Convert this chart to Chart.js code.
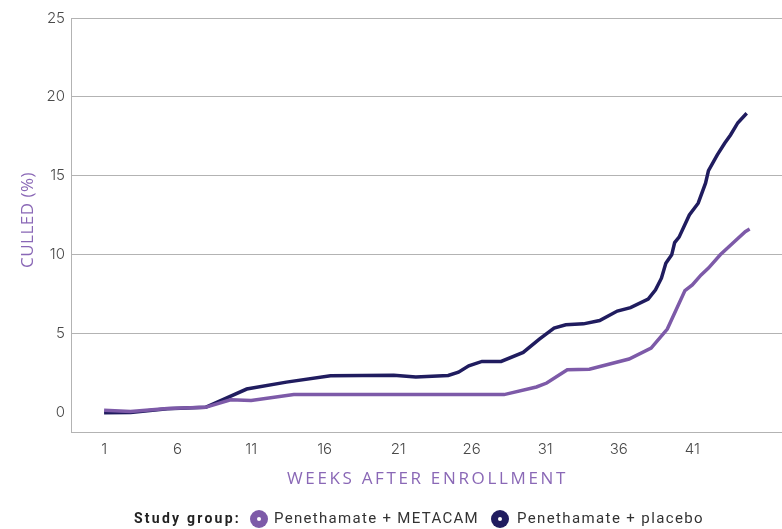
<!DOCTYPE html>
<html>
<head>
<meta charset="utf-8">
<script src="https://cdn.jsdelivr.net/npm/chart.js@4.4.1/dist/chart.umd.min.js"></script>
<style>
  html, body { margin: 0; padding: 0; background: #fff; }
  #wrap { width: 782px; height: 529px; position: relative; }
</style>
</head>
<body>
<div id="wrap"><canvas id="culled-chart"></canvas></div>
<script>
// weeks after enrollment (x) and culled % (y)
const metacamWeeks = [1, 2.8, 5.3, 7.9, 9.6, 11, 13.9, 20, 25, 28.2, 30.4, 31.1, 32.5, 34, 36.7, 38.2, 39.3, 40.5, 41, 41.6, 42.1, 42.9, 43.8, 44.6, 44.9];
const metacamValues = [0.15, 0.08, 0.27, 0.34, 0.82, 0.78, 1.15, 1.15, 1.15, 1.15, 1.63, 1.88, 2.72, 2.76, 3.4, 4.09, 5.3, 7.74, 8.1, 8.73, 9.16, 10.0, 10.78, 11.47, 11.63];

const placeboWeeks = [1, 2.8, 5.3, 7.9, 10.7, 13.4, 16.4, 20.7, 22.2, 24.4, 25.1, 25.8, 26.7, 28, 29.5, 30.6, 31.6, 32.4, 33.6, 34.7, 35.9, 36.8, 38, 38.5, 38.9, 39.2, 39.6, 39.8, 40.1, 40.8, 41.4, 41.9, 42.1, 42.7, 43.2, 43.6, 44.1, 44.7];
const placeboValues = [0.0, 0.02, 0.25, 0.34, 1.5, 1.94, 2.34, 2.38, 2.26, 2.36, 2.57, 2.97, 3.25, 3.25, 3.82, 4.66, 5.36, 5.57, 5.63, 5.84, 6.44, 6.66, 7.2, 7.78, 8.52, 9.47, 10.0, 10.78, 11.12, 12.53, 13.27, 14.54, 15.34, 16.33, 17.07, 17.59, 18.37, 18.97];

const xTicks = [1, 6, 11, 16, 21, 26, 31, 36, 41];
const yTicks = [0, 5, 10, 15, 20, 25];

const seriesNames = ['Penethamate + METACAM', 'Penethamate + placebo'];
const seriesColors = ['#7d5aa8', '#201c5f'];

const toPoints = (xs, ys) => xs.map((x, i) => ({ x, y: ys[i] }));

// letter spacing that makes text take a given width
const fitSpacing = (ctx, text, width) => {
  ctx.letterSpacing = '0px';
  const w = ctx.measureText(text).width;
  return Math.max(0, (width - w) / text.length) + 'px';
};

// axis titles + legend drawn by hand (letter spacing, "Study group:" prefix)
const extrasPlugin = {
  id: 'extras',
  afterDraw(chart) {
    const { ctx } = chart;
    ctx.save();
    ctx.fillStyle = '#8a68b6';
    ctx.textAlign = 'left';
    ctx.textBaseline = 'middle';
    ctx.font = '17px "Open Sans", sans-serif';
    ctx.letterSpacing = fitSpacing(ctx, 'WEEKS AFTER ENROLLMENT', 281);
    ctx.fillText('WEEKS AFTER ENROLLMENT', 287, 479);

    ctx.translate(28, 268);
    ctx.rotate(-Math.PI / 2);
    ctx.letterSpacing = fitSpacing(ctx, 'CULLED (%)', 96);
    ctx.fillText('CULLED (%)', 0, 0);
    ctx.restore();

    // legend
    ctx.save();
    ctx.textBaseline = 'middle';
    ctx.textAlign = 'left';
    const ly = 519;
    ctx.fillStyle = '#222';
    ctx.font = 'bold 14px Roboto, sans-serif';
    ctx.letterSpacing = fitSpacing(ctx, 'Study group:', 107);
    ctx.fillText('Study group:', 134, ly);

    const markerX = [259, 500];
    const textX = [274, 517];
    const textW = [205, 187];
    ctx.font = '15px Roboto, sans-serif';
    seriesNames.forEach((name, i) => {
      ctx.fillStyle = seriesColors[i];
      ctx.beginPath();
      ctx.arc(markerX[i], ly, 9, 0, Math.PI * 2);
      ctx.fill();
      ctx.fillStyle = '#fff';
      ctx.beginPath();
      ctx.arc(markerX[i], ly, 2, 0, Math.PI * 2);
      ctx.fill();
      ctx.fillStyle = '#333';
      ctx.letterSpacing = fitSpacing(ctx, name, textW[i]);
      ctx.fillText(name, textX[i], ly);
    });
    ctx.restore();
  }
};

const data = {
  datasets: [
    {
      label: seriesNames[0],
      data: toPoints(metacamWeeks, metacamValues),
      borderColor: seriesColors[0],
      backgroundColor: seriesColors[0],
      borderWidth: 3.5,
      pointRadius: 0,
      tension: 0,
      order: 1
    },
    {
      label: seriesNames[1],
      data: toPoints(placeboWeeks, placeboValues),
      borderColor: seriesColors[1],
      backgroundColor: seriesColors[1],
      borderWidth: 3.5,
      pointRadius: 0,
      tension: 0,
      order: 2
    }
  ]
};

const config = {
  type: 'line',
  data,
  plugins: [extrasPlugin],
  options: {
    responsive: true,
    maintainAspectRatio: false,
    animation: false,
    layout: {
      padding: { left: 0, right: 0, top: 18, bottom: 40 }
    },
    plugins: {
      legend: { display: false },
      tooltip: { enabled: false }
    },
    scales: {
      x: {
        type: 'linear',
        min: -1.25,
        max: 47.1,
        afterBuildTicks: scale => {
          scale.ticks = xTicks.map(v => ({ value: v }));
        },
        afterFit: scale => { scale.height = 57; },
        grid: { display: false, drawTicks: false },
        border: { display: true, color: '#b3b3b3', width: 1 },
        ticks: {
          color: '#4a4a4a',
          font: { family: 'Inter, sans-serif', size: 15, weight: 300 },
          padding: 8,
          maxRotation: 0,
          autoSkip: false
        }
      },
      y: {
        min: -1.22,
        max: 25,
        afterBuildTicks: scale => {
          scale.ticks = yTicks.map(v => ({ value: v }));
        },
        afterFit: scale => { scale.width = 71; },
        grid: {
          drawTicks: false,
          color: ctx => (ctx.tick && ctx.tick.value > 0 ? '#b3b3b3' : 'rgba(0,0,0,0)'),
          lineWidth: 1
        },
        border: { display: true, color: '#b3b3b3', width: 1 },
        ticks: {
          color: '#4a4a4a',
          font: { family: 'Inter, sans-serif', size: 15, weight: 300 },
          padding: 6
        }
      }
    }
  }
};

document.addEventListener('DOMContentLoaded', function () {
  const canvas = document.getElementById('culled-chart').getContext('2d');
  new Chart(canvas, config);
});
</script>
</body>
</html>
